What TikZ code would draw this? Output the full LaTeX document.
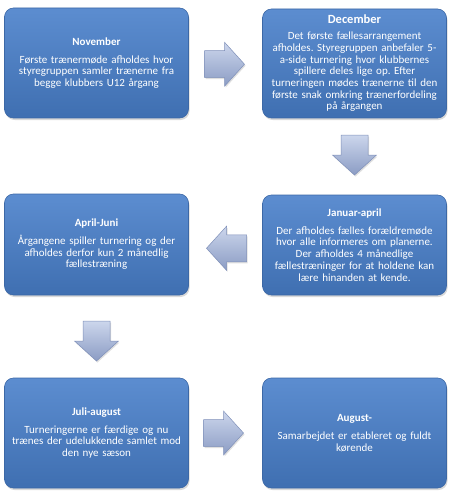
\documentclass[tikz,border=0pt]{standalone}
\usepackage{fontspec}
\setmainfont{Carlito}
\frenchspacing
\usetikzlibrary{shadows,calc}
\definecolor{boxtop}{HTML}{5C8DD0}
\definecolor{boxbot}{HTML}{3F6FB1}
\definecolor{boxline}{HTML}{3C68A6}
\definecolor{arrtop}{HTML}{CCD6EC}
\definecolor{arrbot}{HTML}{8B9CC4}
\definecolor{arrline}{HTML}{7F90B9}
\begin{document}
\begin{tikzpicture}[x=1pt,y=-1pt,
  stage/.style={rectangle, rounded corners=9pt, draw=boxline, line width=0.6pt,
    top color=boxtop, bottom color=boxbot, text=white,
    minimum width=184pt, text width=180pt, align=center, inner sep=2pt,
    font=\fontsize{11}{11.7}\selectfont\frenchspacing,
    drop shadow={opacity=0.3, shadow xshift=1pt, shadow yshift=-2pt}},
  arrowbody/.style={draw=arrline, line width=0.5pt, top color=arrtop, bottom color=arrbot,
    drop shadow={opacity=0.25, shadow xshift=1pt, shadow yshift=-1.5pt}},
  blockarr/.pic={\path[arrowbody] (-20,-13.5) -- (0,-13.5) -- (0,-22) -- (20,0)
      -- (0,22) -- (0,13.5) -- (-20,13.5) -- cycle;}]
\useasboundingbox (0,0) rectangle (454,500);
\node[stage, minimum height=110pt] (nov) at (96.5,63)
  {\textbf{November}\\[6pt]Første trænermøde afholdes hvor\\ styregruppen samler trænerne fra\\ begge klubbers U12 årgang};
\node[stage, minimum height=109pt] (dec) at (354.5,63.5)
  {{\fontsize{12.5}{13}\selectfont\textbf{December}}\\[4pt]Det første fællesarrangement\\ afholdes. Styregruppen anbefaler 5-\\ a-side turnering hvor klubbernes\\ spillere deles lige op. Efter\\ turneringen mødes trænerne til den\\ første snak omkring trænerfordeling\\ på årgangen};
\node[stage, minimum height=100pt] (jan) at (354.5,245)
  {\textbf{Januar-april}\\[6pt]Der afholdes fælles forældremøde\\ hvor alle informeres om planerne.\\ Der afholdes 4 månedlige\\ fællestræninger for at holdene kan\\ lære hinanden at kende.};
\node[stage, minimum height=101pt] (apr) at (96.5,244.5)
  {\textbf{April-Juni}\\[6pt]Årgangene spiller turnering og der\\ afholdes derfor kun 2 månedlig\\ fællestræning};
\node[stage, minimum height=110pt] (jul) at (96.5,433)
  {\textbf{Juli-august}\\[6pt]Turneringerne er færdige og nu\\ trænes der udelukkende samlet mod\\ den nye sæson};
\node[stage, minimum height=110pt] (aug) at (354.5,433)
  {\textbf{August-}\\[6pt]Samarbejdet er etableret og fuldt\\ kørende};
\coordinate (a1) at ($(nov.east)!0.5!(dec.west)+(-1,1)$);
\coordinate (a2) at ($(dec.south)!0.5!(jan.north)+(0,-1.5)$);
\coordinate (a3) at ($(jan.west)!0.5!(apr.east)+(1,3.5)$);
\coordinate (a4) at ($(apr.south)!0.5!(jul.north)+(0,4.5)$);
\coordinate (a5) at ($(jul.east)!0.5!(aug.west)+(-2,0)$);
\pic at (a1) {blockarr};
\pic[rotate=-90] at (a2) {blockarr};
\pic[rotate=180] at (a3) {blockarr};
\pic[rotate=-90] at (a4) {blockarr};
\pic at (a5) {blockarr};
\end{tikzpicture}
\end{document}
